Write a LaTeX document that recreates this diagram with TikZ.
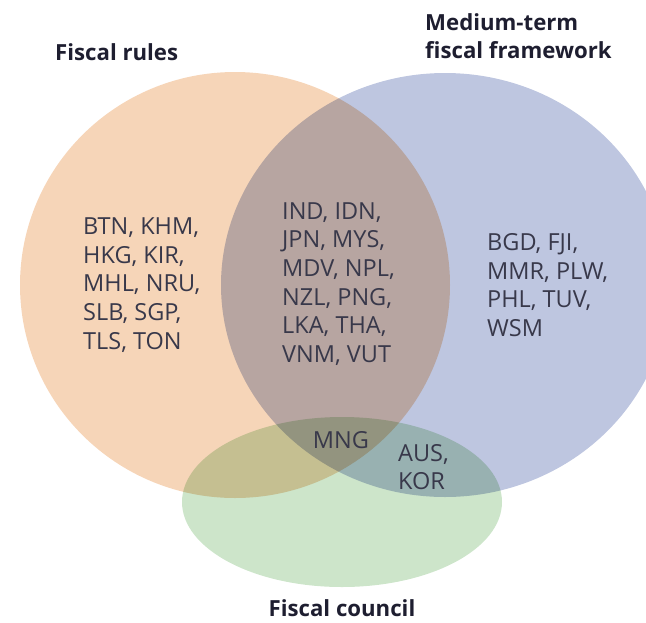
\documentclass[tikz,border=0pt]{standalone}
\usepackage{fontspec}
\setmainfont{Open Sans}
\usetikzlibrary{positioning}
\definecolor{rulesorange}{HTML}{F6D5B8}
\definecolor{mtffblue}{HTML}{BEC6E0}
\definecolor{councilgreen}{HTML}{CDE5CA}
\definecolor{listgrey}{HTML}{38384A}
\definecolor{titlenavy}{HTML}{1E1E30}

\begin{document}
\begin{tikzpicture}[
    x=1pt, y=-1pt,
    set/.style={draw=none, blend mode=multiply},
    list/.style={align=left, anchor=west, inner sep=0pt, text=listgrey, font=\fontsize{23.5}{28.6}\selectfont},
    title/.style={align=left, inner sep=0pt, text=titlenavy, font=\bfseries\fontsize{22.2}{28}\selectfont}
  ]
    \useasboundingbox (0,0) rectangle (646,622);
    \clip (0,0) rectangle (646,622);
    \fill[set, rulesorange] (235,285) ellipse [x radius=215, y radius=213];
    \fill[set, mtffblue] (445,285) ellipse [x radius=224, y radius=212];
    \fill[set, councilgreen] (342,502) ellipse [x radius=160, y radius=85];

    \node[list] (rulesonly) at (83,285) {BTN, KHM,\\HKG, KIR,\\MHL, NRU,\\SLB, SGP,\\TLS, TON};
    \node[list] (rulesmtff) at (282,284) {IND, IDN,\\JPN, MYS,\\MDV, NPL,\\NZL, PNG,\\LKA, THA,\\VNM, VUT};
    \node[list] (mtffonly) at (487,285) {BGD, FJI,\\MMR, PLW,\\PHL, TUV,\\WSM};
    \node[list, anchor=center] (allthree) at (341,440) {MNG};
    \node[list] (mtffcouncil) at (398,467) {AUS,\\KOR};

    \node[title, anchor=west] (rulestitle) at (55,52) {Fiscal rules};
    \node[title, anchor=west] (mtfftitle) at (425,36) {Medium-term\\fiscal framework};
    \node[title, anchor=base] (counciltitle) at (342,616) {Fiscal council};
  \end{tikzpicture}
\end{document}
